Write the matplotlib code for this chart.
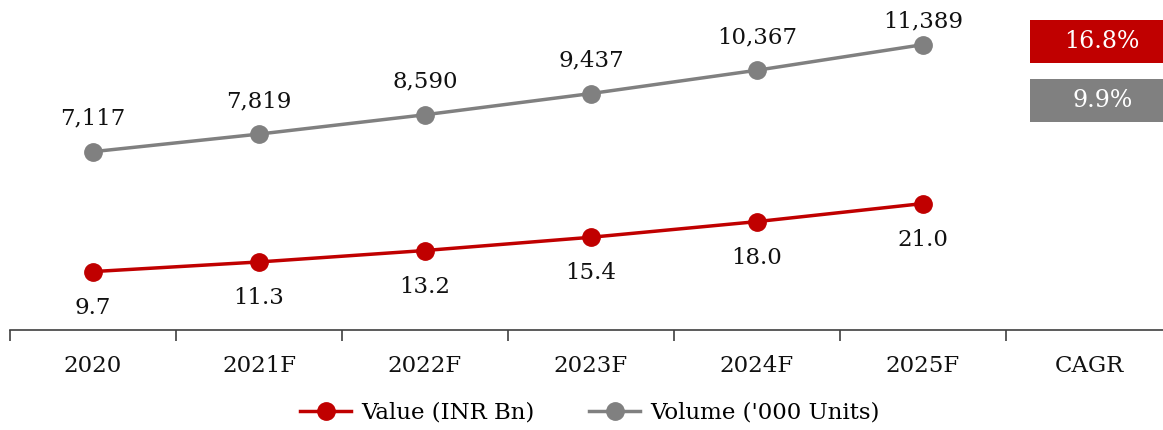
import matplotlib
matplotlib.use('Agg')
import matplotlib.pyplot as plt
from matplotlib.patches import Rectangle
import matplotlib.transforms as mtransforms

plt.rcParams['font.family'] = ['DejaVu Serif']

# Data
years = ['2020', '2021F', '2022F', '2023F', '2024F', '2025F']
value_inr_bn = [9.7, 11.3, 13.2, 15.4, 18.0, 21.0]
volume_units = [7117, 7819, 8590, 9437, 10367, 11389]
cagr_labels = ['16.8%', '9.9%']
categories = years + ['CAGR']

red = '#C00000'
grey = '#808080'
txt_col = '#111111'

fig = plt.figure(figsize=(11.63, 4.30), dpi=100)
ax = fig.add_axes([10 / 1163, 100 / 430, 1162 / 1163, 330 / 430])
ax2 = ax.twinx()

x = list(range(len(years)))

# Lines
l1, = ax.plot(x, value_inr_bn, color=red, lw=2.5, marker='o', ms=12.5,
              label='Value (INR Bn)', zorder=3)
l2, = ax2.plot(x, volume_units, color=grey, lw=2.5, marker='o', ms=12.5,
               label="Volume ('000 Units)", zorder=3)

ax.set_ylim(0, 54.8)
ax2.set_ylim(0, 13170)
ax.set_xlim(-0.5, len(categories) - 0.5)

# Data labels
for xi, v in zip(x, value_inr_bn):
    ax.annotate(f'{v:.1f}', (xi, v), xytext=(0, -26), textcoords='offset points',
                ha='center', va='center', fontsize=16.5, color=txt_col)
for i, (xi, v) in enumerate(zip(x, volume_units)):
    off = 16.5 if i == len(x) - 1 else 23.8   # last label sits lower, at the top edge
    ax2.annotate(f'{v:,}', (xi, v), xytext=(0, off), textcoords='offset points',
                 ha='center', va='center', fontsize=16.5, color=txt_col)

# CAGR boxes
trans = mtransforms.blended_transform_factory(ax.transData, ax.transAxes)
box_x0 = 5.645
box_w = 1.0
cagr_x = 6.08
for (y0, h), col, txt in zip([(0.809, 0.130), (0.630, 0.131)], [red, grey], cagr_labels):
    ax.add_patch(Rectangle((box_x0, y0), box_w, h, transform=trans,
                           facecolor=col, edgecolor='none', clip_on=False, zorder=4))
    ax.text(cagr_x, y0 + h / 2, txt, transform=trans, ha='center', va='center',
            color='white', fontsize=17, zorder=5)

# Axes styling
for a in (ax, ax2):
    for s in ['top', 'right', 'left']:
        a.spines[s].set_visible(False)
    a.set_yticks([])
ax2.spines['bottom'].set_visible(False)
ax.spines['bottom'].set_color('#404040')
ax.spines['bottom'].set_linewidth(1.2)

ax.set_xticks(range(len(categories)))
ax.set_xticklabels(categories, fontsize=16.5)
ax.tick_params(axis='x', which='major', length=0, pad=18, colors=txt_col)
ax.set_xticks([i - 0.5 for i in range(len(categories) + 1)], minor=True)
ax.tick_params(axis='x', which='minor', length=8, width=1.2, color='#404040')

fig.legend(handles=[l1, l2], loc='center', bbox_to_anchor=(590 / 1163, 17 / 430),
           ncol=2, frameon=False, fontsize=16.5, handlelength=2.2,
           handletextpad=0.45, columnspacing=2.4)

fig.savefig('out.png', dpi=100)
